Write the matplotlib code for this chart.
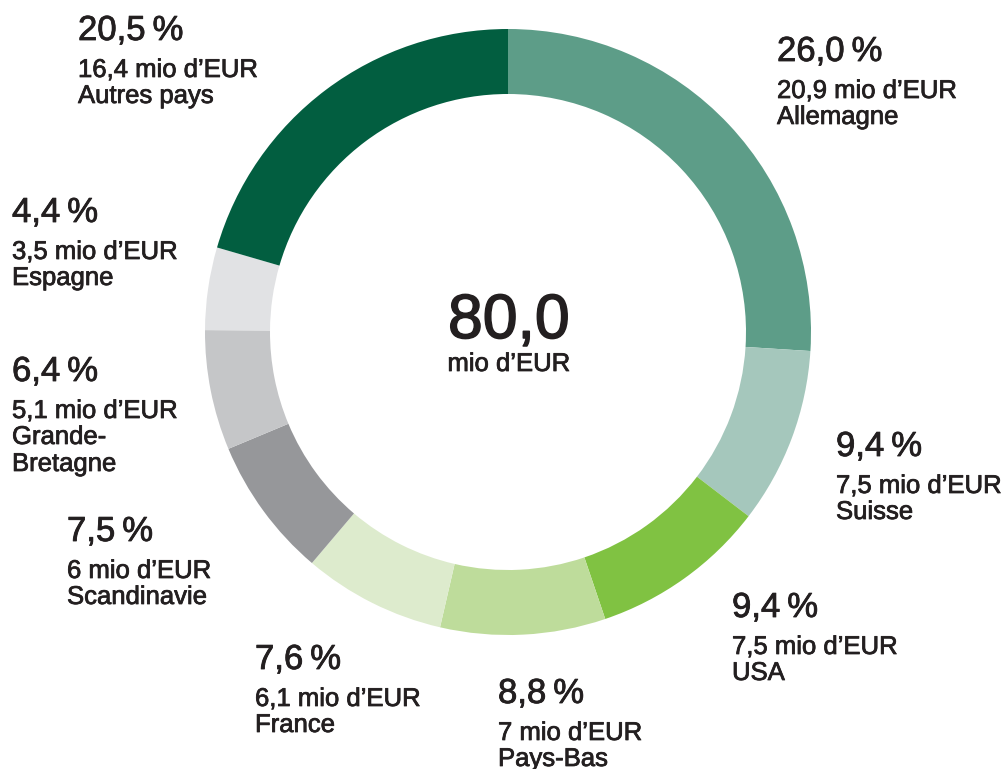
import matplotlib
matplotlib.use('Agg')
from matplotlib import pyplot as plt
from matplotlib import patheffects as pe

plt.rcParams['font.family'] = ['Liberation Sans', 'DejaVu Sans']

countries = ['Allemagne', 'Suisse', 'USA', 'Pays-Bas', 'France',
             'Scandinavie', 'Grande-\nBretagne', 'Espagne', 'Autres pays']
shares = [26.0, 9.4, 9.4, 8.8, 7.6, 7.5, 6.4, 4.4, 20.5]
amounts = [20.9, 7.5, 7.5, 7, 6.1, 6, 5.1, 3.5, 16.4]
total = 80.0
colors = ['#5d9d88', '#a5c7bc', '#80c242', '#bedc9b', '#ddebcd',
          '#96979a', '#c5c6c8', '#e1e2e4', '#025e40']

# label anchor: left x, baseline of the percentage (pixels from top)
label_pos = [(777, 61), (836, 456), (732, 617), (498, 703), (255, 669),
             (67, 541), (12, 381), (12, 222), (78, 40)]

W, H = 1006, 769
txt = '#231f20'

fig = plt.figure(figsize=(W / 100, H / 100), dpi=100)
ax = fig.add_axes([0, 0, 1, 1])

ax.pie(shares, colors=colors, startangle=90, counterclock=False,
       radius=303, center=(508, H - 332),
       wedgeprops=dict(width=65, linewidth=0))
ax.set_xlim(0, W)
ax.set_ylim(0, H)
ax.set_aspect('equal')
ax.axis('off')

# thicken the regular face a bit, the original uses a medium weight
thick_s = [pe.withStroke(linewidth=0.55, foreground=txt)]
thick_l = [pe.withStroke(linewidth=0.6, foreground=txt)]


def fmt(v, dec=None):
    s = '{:.1f}'.format(v) if dec else '{:g}'.format(v)
    return s.replace('.', ',')


for name, pct, amt, (x, y) in zip(countries, shares, amounts, label_pos):
    ax.text(x, H - y, fmt(pct, 1) + '\u2009%', fontsize=25, color=txt,
            va='baseline', path_effects=thick_l)
    ax.text(x, H - y - 37, fmt(amt) + ' mio d\u2019EUR', fontsize=18.5, color=txt,
            va='baseline', path_effects=thick_s)
    for i, line in enumerate(name.split('\n')):
        ax.text(x, H - y - 63 - 27 * i, line, fontsize=18.5, color=txt,
                va='baseline', path_effects=thick_s)

ax.text(509, H - 338, fmt(total, 1), fontsize=45, color=txt, ha='center',
        va='baseline', path_effects=[pe.withStroke(linewidth=1.1, foreground=txt)])
ax.text(509, H - 371, 'mio d\u2019EUR', fontsize=18.5, color=txt, ha='center',
        va='baseline', path_effects=thick_s)

plt.savefig('out.png', dpi=100)
